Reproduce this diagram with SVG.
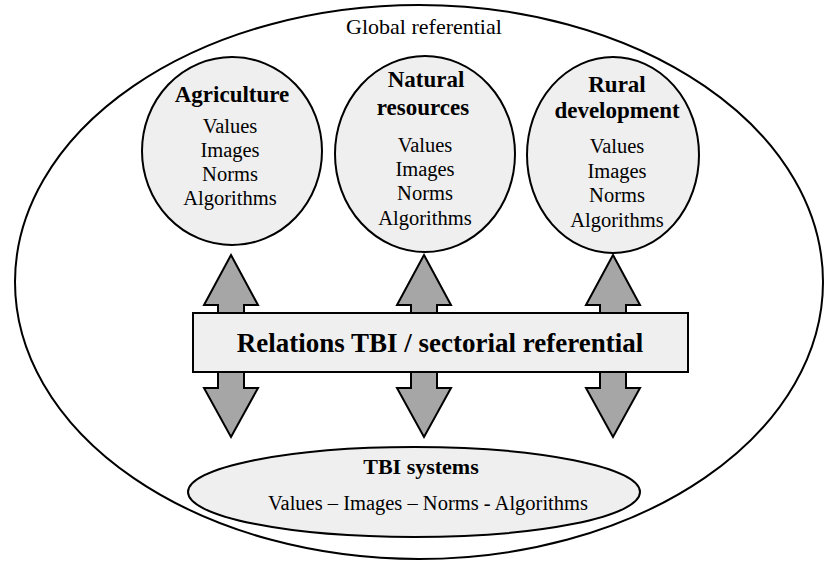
<svg xmlns="http://www.w3.org/2000/svg" width="824" height="565" viewBox="0 0 824 565">
<style>
.ol{fill:#ffffff;stroke:#000;stroke-width:2}
.node{fill:#efefef;stroke:#000;stroke-width:2}
.arr{fill:#a6a6a6;stroke:#000;stroke-width:2;stroke-linejoin:miter}
text{font-family:'Liberation Serif','Tinos','DejaVu Serif',serif;fill:#000;text-anchor:middle}
.t{font-size:23px;font-weight:bold}
.b{font-size:20.5px}
.g{font-size:22px}
.big{font-size:27px;font-weight:bold}
</style>
<g id="global">
<ellipse class="ol" cx="419" cy="282" rx="404" ry="277"/>
<text class="g" x="424" y="34">Global referential</text>
</g>
<g id="connectors">
<polygon class="arr" points="231,255 258,305 244,305 244,388 258,388 231,437 204,388 218,388 218,305 204,305"/>
<polygon class="arr" points="424,255 451,305 437,305 437,388 451,388 424,437 397,388 411,388 411,305 397,305"/>
<polygon class="arr" points="613,255 640,305 626,305 626,388 640,388 613,437 586,388 600,388 600,305 586,305"/>
</g>
<g id="agriculture">
<ellipse class="node" cx="232" cy="151" rx="90" ry="94"/>
<text class="t" x="232" y="102">Agriculture</text>
<text class="b" x="230" y="133">Values</text>
<text class="b" x="230" y="157">Images</text>
<text class="b" x="230" y="181">Norms</text>
<text class="b" x="230" y="205">Algorithms</text>
</g>
<g id="natural">
<ellipse class="node" cx="425" cy="154" rx="90" ry="98"/>
<text class="t" x="426" y="87">Natural</text>
<text class="t" x="423" y="115">resources</text>
<text class="b" x="425" y="152">Values</text>
<text class="b" x="425" y="176">Images</text>
<text class="b" x="425" y="200">Norms</text>
<text class="b" x="425" y="225">Algorithms</text>
</g>
<g id="rural">
<ellipse class="node" cx="613" cy="155" rx="86" ry="98"/>
<text class="t" x="617" y="92">Rural</text>
<text class="t" x="617" y="118">development</text>
<text class="b" x="617" y="153">Values</text>
<text class="b" x="617" y="178">Images</text>
<text class="b" x="617" y="202">Norms</text>
<text class="b" x="617" y="227">Algorithms</text>
</g>
<g id="relations">
<rect class="node" x="193" y="313" width="495" height="59"/>
<text class="big" x="440" y="352">Relations TBI / sectorial referential</text>
</g>
<g id="tbi">
<ellipse class="node" cx="414" cy="492" rx="226" ry="45"/>
<text class="t" x="421" y="474" style="font-size:22px">TBI systems</text>
<text class="b" x="428" y="510">Values – Images – Norms - Algorithms</text>
</g>
</svg>
